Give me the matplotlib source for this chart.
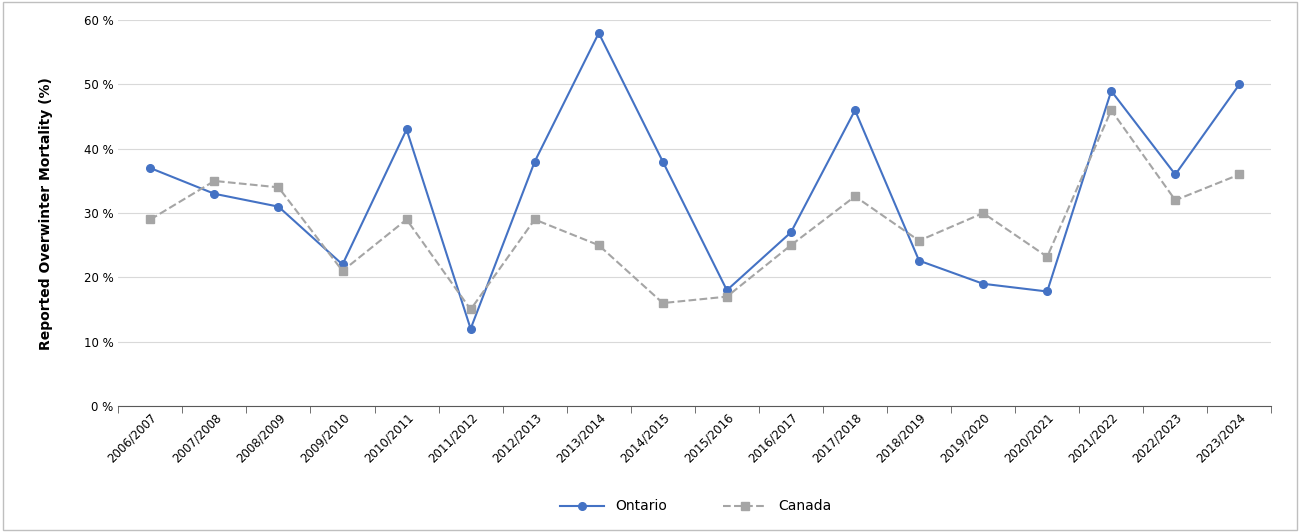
import matplotlib.pyplot as plt
import numpy as np
from matplotlib.patches import Rectangle

seasons = ["2006/2007", "2007/2008", "2008/2009", "2009/2010", "2010/2011", "2011/2012",
           "2012/2013", "2013/2014", "2014/2015", "2015/2016", "2016/2017", "2017/2018",
           "2018/2019", "2019/2020", "2020/2021", "2021/2022", "2022/2023", "2023/2024"]
ontario = [37, 33, 31, 22, 43, 12, 38, 58, 38, 18, 27, 46, 22.6, 19, 17.8, 49, 36, 50]
canada = [29, 35, 34, 21, 29, 15, 29, 25, 16, 17, 25, 32.6, 25.7, 30, 23.2, 46, 32, 36]

plt.rcParams["font.family"] = "DejaVu Sans"
fig = plt.figure(figsize=(13, 5.32), dpi=100)
ax = fig.add_axes([0.091, 0.237, 0.887, 0.725])
fig.patches.append(Rectangle((0.002, 0.003), 0.996, 0.994, transform=fig.transFigure,
                             fill=False, edgecolor="#bfbfbf", lw=1))

x = np.arange(len(seasons))
ax.plot(x, ontario, color="#4472c4", lw=1.5, marker="o", ms=5.5, label="Ontario")
ax.plot(x, canada, color="#a5a5a5", lw=1.5, ls="--", marker="s", ms=5.5, label="Canada")

ax.set_xlim(-0.5, len(seasons) - 0.5)
ax.set_ylim(0, 60)
ax.set_yticks(range(0, 61, 10))
ax.set_yticklabels([f"{v} %" for v in range(0, 61, 10)], fontsize=8.5)
ax.yaxis.grid(True, color="#d9d9d9", lw=0.8)
ax.set_axisbelow(True)
ax.tick_params(axis="y", length=0)

ax.set_xticks(x)
ax.set_xticklabels(seasons, rotation=45, ha="right", rotation_mode="anchor", fontsize=8.5)
ax.tick_params(axis="x", length=0)
ax.set_xticks(np.arange(-0.5, len(seasons)), minor=True)
ax.tick_params(axis="x", which="minor", length=5, color="#595959")

for s in ["top", "right", "left"]:
    ax.spines[s].set_visible(False)
ax.spines["bottom"].set_color("#595959")

ax.set_ylabel("Reported Overwinter Mortality (%)", fontsize=10, fontweight="bold", labelpad=22)
fig.legend(*ax.get_legend_handles_labels(), loc="center", bbox_to_anchor=(0.535, 0.048),
           ncol=2, frameon=False, fontsize=10, handlelength=3.2, columnspacing=4)

fig.savefig("out.png", dpi=100)
